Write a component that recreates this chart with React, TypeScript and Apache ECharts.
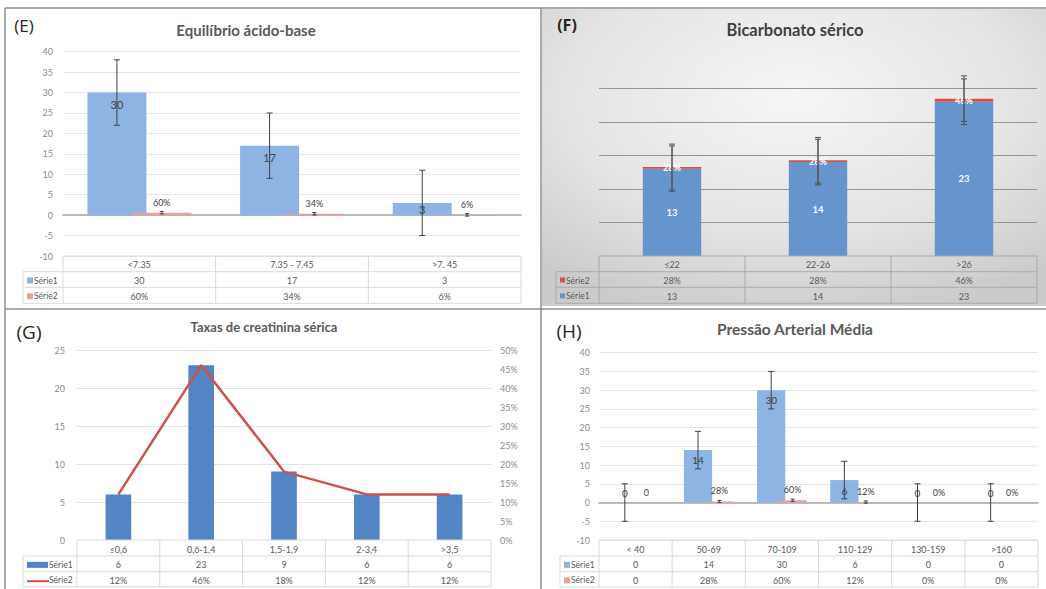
import React, { useEffect, useRef } from 'react';
import * as echarts from 'echarts';

const FONT = 'Lato, "Open Sans", sans-serif';

// ---------- (E) Equilíbrio ácido-base ----------
const eCategories = ['<7.35', '7.35 - 7.45', '>7. 45'];
const eSerie1 = [30, 17, 3];
const eSerie2 = [0.6, 0.34, 0.06];
const eSerie2Labels = ['60%', '34%', '6%'];
const eError1 = [8, 8, 8];
const eError2 = [0.3, 0.3, 0.3];

// ---------- (F) Bicarbonato sérico ----------
const fCategories = ['≤22', '22-26', '>26'];
const fSerie1 = [13, 14, 23];
const fSerie2 = [0.28, 0.28, 0.46];
const fSerie2Labels = ['28%', '28%', '46%'];
const fError = [3.4, 3.4, 3.4];

// ---------- (G) Taxas de creatinina sérica ----------
const gCategories = ['≤0,6', '0,6-1,4', '1,5-1,9', '2-3,4', '>3,5'];
const gSerie1 = [6, 23, 9, 6, 6];
const gSerie2 = [0.12, 0.46, 0.18, 0.12, 0.12];
const gSerie2Labels = ['12%', '46%', '18%', '12%', '12%'];

// ---------- (H) Pressão Arterial Média ----------
const hCategories = ['< 40', '50-69', '70-109', '110-129', '130-159', '>160'];
const hSerie1 = [0, 14, 30, 6, 0, 0];
const hSerie2 = [0, 0.28, 0.6, 0.12, 0, 0];
const hSerie2Labels = ['0', '28%', '60%', '12%', '0%', '0%'];
const hError1 = [5, 5, 5, 5, 5, 5];
const hError2 = [0, 0.3, 0.3, 0.3, 0, 0];

// ---------- layout ----------
const E = { left: 63, right: 521, top: 51.7, bottom: 256, keyLeft: 23, rows: [256, 271.7, 287.3, 303.3] };
const F = { left: 599, right: 1037, top: 54.8, bottom: 256, keyLeft: 556, rows: [256, 271.7, 287.3, 303.3] };
const G = { left: 77, right: 491, top: 350, bottom: 540, keyLeft: 23, rows: [540, 556, 571.7, 586.7] };
const H = { left: 599, right: 1038, top: 352.7, bottom: 540, keyLeft: 560, rows: [540, 556, 571.7, 587] };

const CAT_GAP = 0.32;
const BAR_GAP = -0.24;
const barW = (1 - CAT_GAP) / (2 + BAR_GAP);
const blueShift = -(1 - CAT_GAP) / 2 + barW / 2;
const redShift = -blueShift;

const C = {
  eBlue: '#8DB4E2',
  eRed: '#E6A09E',
  fBlue: '#6694CC',
  fRed: '#D4504C',
  gBlue: '#5384C4',
  gRed: '#D0504D',
  text: '#595959',
  axis: '#8c8c8c',
};

const makeErr = (shift: number, cap = 3, color = '#404040') => (params: any, api: any) => {
  const xi = api.value(0);
  const c = api.value(1);
  const e = api.value(2);
  if (!e) return { type: 'group', children: [] };
  const p1 = api.coord([xi, c + e]);
  const p2 = api.coord([xi, c - e]);
  const band = api.size([1, 0])[0];
  const cx = p1[0] + shift * band;
  const style = { stroke: color, lineWidth: 1 };
  return {
    type: 'group',
    children: [
      { type: 'line', shape: { x1: cx, y1: p1[1], x2: cx, y2: p2[1] }, style },
      { type: 'line', shape: { x1: cx - cap, y1: p1[1], x2: cx + cap, y2: p1[1] }, style },
      { type: 'line', shape: { x1: cx - cap, y1: p2[1], x2: cx + cap, y2: p2[1] }, style },
    ],
  };
};

const txt = (x: number, y: number, text: string, o: any = {}) => ({
  type: 'text',
  x,
  y,
  silent: true,
  z: 50,
  style: {
    text,
    fill: o.fill || C.text,
    fontSize: o.fontSize || 9,
    fontWeight: o.fontWeight || 'normal',
    fontFamily: o.fontFamily || FONT,
    align: o.align || 'center',
    verticalAlign: 'middle',
    textAlign: o.align || 'center',
    textVerticalAlign: 'middle',
  },
});

const ln = (x1: number, y1: number, x2: number, y2: number, stroke: string, lineWidth = 1, z = 40) => ({
  type: 'line',
  silent: true,
  z,
  shape: { x1, y1, x2, y2 },
  style: { stroke, lineWidth },
});

type RowDef = { name: string; values: string[]; key: any };

function makeTable(L: any, categories: string[], rows: RowDef[], lineColor: string) {
  const els: any[] = [];
  const ys = L.rows;
  const n = categories.length;
  const colW = (L.right - L.left) / n;
  els.push(ln(L.left, ys[0], L.right, ys[0], lineColor));
  for (let r = 1; r <= 3; r++) els.push(ln(L.keyLeft, ys[r], L.right, ys[r], lineColor));
  els.push(ln(L.left, ys[0], L.left, ys[3], lineColor));
  els.push(ln(L.keyLeft, ys[1], L.keyLeft, ys[3], lineColor));
  for (let i = 1; i <= n; i++) els.push(ln(L.left + colW * i, ys[0], L.left + colW * i, ys[3], lineColor));
  categories.forEach((c, i) => els.push(txt(L.left + colW * (i + 0.5), (ys[0] + ys[1]) / 2 + 1, c)));
  rows.forEach((row, r) => {
    const cy = (ys[r + 1] + ys[r + 2]) / 2 + 1;
    row.values.forEach((v, i) => els.push(txt(L.left + colW * (i + 0.5), cy, v)));
    const k = row.key;
    if (k.type === 'square') {
      els.push({ type: 'rect', silent: true, z: 50, shape: { x: L.keyLeft + 4, y: cy - 3, width: k.size, height: k.size }, style: { fill: k.color } });
      els.push(txt(L.keyLeft + 5 + k.size, cy, row.name, { align: 'left', fontSize: 8.5 }));
    } else if (k.type === 'thick') {
      els.push({ type: 'rect', silent: true, z: 50, shape: { x: L.keyLeft + 4, y: cy - 3, width: 21, height: 6 }, style: { fill: k.color } });
      els.push(txt(L.keyLeft + 26, cy, row.name, { align: 'left', fontSize: 8.5 }));
    } else {
      els.push(ln(L.keyLeft + 4, cy + 1, L.keyLeft + 26, cy + 1, k.color, 2, 50));
      els.push(txt(L.keyLeft + 26, cy, row.name, { align: 'left', fontSize: 8.5 }));
    }
  });
  return els;
}

function buildOption() {
  const graphic: any[] = [];
  // F panel background
  graphic.push({
    type: 'rect',
    silent: true,
    z: -100,
    shape: { x: 542, y: 9, width: 504, height: 297 },
    style: {
      fill: {
        type: 'radial',
        x: 0.5,
        y: 0.3,
        r: 0.75,
        colorStops: [
          { offset: 0, color: '#f6f6f6' },
          { offset: 0.6, color: '#e4e4e4' },
          { offset: 1, color: '#cbcbcb' },
        ],
      },
    },
  });
  // borders
  graphic.push(ln(5, 8, 1046, 8, '#8f8f8f', 1.5, 60));
  graphic.push(ln(5, 8, 5, 589, '#8f8f8f', 1.5, 60));
  graphic.push(ln(541, 8, 541, 589, '#8f8f8f', 1.5, 60));
  graphic.push(ln(5, 309, 1046, 309, '#8f8f8f', 1.5, 60));

  // titles
  graphic.push(txt(24, 25, '(E)', { fontSize: 17, fill: '#262626', fontFamily: '"Open Sans", sans-serif' }));
  graphic.push(txt(246, 30, 'Equilíbrio ácido-base', { fontSize: 15, fontWeight: 'bold', fill: '#595959' }));
  graphic.push(txt(567, 25, '(F)', { fontSize: 16, fill: '#262626', fontWeight: 'bold', fontFamily: '"Open Sans", sans-serif' }));
  graphic.push(txt(795, 30, 'Bicarbonato sérico', { fontSize: 16.5, fontWeight: 'bold', fill: '#404040' }));
  graphic.push(txt(29, 332, '(G)', { fontSize: 19, fill: '#262626', fontFamily: '"Open Sans", sans-serif' }));
  graphic.push(txt(264, 327, 'Taxas de creatinina sérica', { fontSize: 13, fontWeight: 'bold', fill: '#595959' }));
  graphic.push(txt(569, 331, '(H)', { fontSize: 19, fill: '#262626', fontFamily: '"Open Sans", sans-serif' }));
  graphic.push(txt(795, 329, 'Pressão Arterial Média', { fontSize: 15.5, fontWeight: 'bold', fill: '#595959' }));

  // tables
  graphic.push(
    ...makeTable(E, eCategories, [
      { name: 'Série1', values: eSerie1.map(String), key: { type: 'square', color: C.eBlue, size: 6 } },
      { name: 'Série2', values: eSerie2Labels, key: { type: 'square', color: C.eRed, size: 6 } },
    ], '#d9d9d9')
  );
  graphic.push(
    ...makeTable(F, fCategories, [
      { name: 'Série2', values: fSerie2Labels, key: { type: 'square', color: C.fRed, size: 5 } },
      { name: 'Série1', values: fSerie1.map(String), key: { type: 'square', color: C.fBlue, size: 5 } },
    ], '#ababab')
  );
  graphic.push(
    ...makeTable(G, gCategories, [
      { name: 'Série1', values: gSerie1.map(String), key: { type: 'thick', color: C.gBlue } },
      { name: 'Série2', values: gSerie2Labels, key: { type: 'line', color: C.gRed } },
    ], '#d9d9d9')
  );
  graphic.push(
    ...makeTable(H, hCategories, [
      { name: 'Série1', values: hSerie1.map(String), key: { type: 'square', color: C.eBlue, size: 6 } },
      { name: 'Série2', values: hSerie2Labels, key: { type: 'square', color: C.eRed, size: 6 } },
    ], '#d9d9d9')
  );

  const gridOf = (L: any) => ({ left: L.left, top: L.top, width: L.right - L.left, height: L.bottom - L.top, containLabel: false });

  const baseX = (cats: string[], gridIndex: number, showLine: boolean, lineColor = '#a6a6a6') => ({
    type: 'category',
    gridIndex,
    data: cats,
    axisLabel: { show: false },
    axisTick: { show: false },
    axisLine: { show: showLine, onZero: true, lineStyle: { color: lineColor, width: 1.5 } },
    splitLine: { show: false },
  });

  const yLabel = { color: C.axis, fontSize: 9, fontFamily: FONT, margin: 10 };

  const option: any = {
    animation: false,
    backgroundColor: '#ffffff',
    textStyle: { fontFamily: FONT },
    graphic,
    grid: [gridOf(E), gridOf(F), gridOf(G), gridOf(H)],
    xAxis: [
      baseX(eCategories, 0, true),
      baseX(fCategories, 1, false),
      baseX(gCategories, 2, false),
      baseX(hCategories, 3, true),
    ],
    yAxis: [
      {
        type: 'value', gridIndex: 0, min: -10, max: 40, interval: 5,
        axisLabel: yLabel, axisLine: { show: false }, axisTick: { show: false },
        splitLine: { lineStyle: { color: '#e6e6e6' } },
      },
      {
        type: 'value', gridIndex: 1, min: 0, max: 30, interval: 5,
        axisLabel: { show: false }, axisLine: { show: false }, axisTick: { show: false },
        splitLine: { showMaxLine: false, showMinLine: false, lineStyle: { color: '#959595' } },
      },
      {
        type: 'value', gridIndex: 2, min: 0, max: 25, interval: 5,
        axisLabel: { ...yLabel, margin: 12 }, axisLine: { show: false }, axisTick: { show: false },
        splitLine: { showMinLine: false, lineStyle: { color: '#e3e3e3' } },
      },
      {
        type: 'value', gridIndex: 2, position: 'right', min: 0, max: 0.5, interval: 0.05,
        axisLabel: { ...yLabel, margin: 9, formatter: (v: number) => Math.round(v * 100) + '%' },
        axisLine: { show: false }, axisTick: { show: false }, splitLine: { show: false },
      },
      {
        type: 'value', gridIndex: 3, min: -10, max: 40, interval: 5,
        axisLabel: { ...yLabel, margin: 9 }, axisLine: { show: false }, axisTick: { show: false },
        splitLine: { lineStyle: { color: '#e6e6e6' } },
      },
    ],
    series: [
      // E
      {
        type: 'bar', xAxisIndex: 0, yAxisIndex: 0, name: 'Série1',
        barCategoryGap: '32%', barGap: '-24%',
        itemStyle: { color: C.eBlue },
        data: eSerie1.map((v) => ({ value: v, label: { position: v < 5 ? 'inside' : 'insideTop' } })),
        label: { show: true, color: '#404040', fontSize: 11, distance: 6 },
        z: 2,
      },
      {
        type: 'bar', xAxisIndex: 0, yAxisIndex: 0, name: 'Série2',
        barCategoryGap: '32%', barGap: '-24%',
        itemStyle: { color: C.eRed },
        data: eSerie2,
        label: { show: true, position: 'top', distance: 6, color: '#404040', fontSize: 9, formatter: (p: any) => eSerie2Labels[p.dataIndex] },
        z: 2,
      },
      {
        type: 'custom', xAxisIndex: 0, yAxisIndex: 0, clip: false, z: 5,
        renderItem: makeErr(blueShift, 3),
        data: eSerie1.map((v, i) => [i, v, eError1[i]]),
      },
      {
        type: 'custom', xAxisIndex: 0, yAxisIndex: 0, clip: false, z: 5,
        renderItem: makeErr(redShift, 2),
        data: eSerie2.map((v, i) => [i, v, eError2[i]]),
      },
      // F
      {
        type: 'bar', xAxisIndex: 1, yAxisIndex: 1, stack: 'f', name: 'Série1',
        barWidth: '40%',
        itemStyle: { color: C.fBlue },
        data: fSerie1,
        label: { show: true, position: 'inside', color: '#ffffff', fontWeight: 'bold', fontSize: 9.5 },
        z: 2,
      },
      {
        type: 'bar', xAxisIndex: 1, yAxisIndex: 1, stack: 'f', name: 'Série2',
        barWidth: '40%',
        itemStyle: { color: C.fRed },
        data: fSerie2,
        label: { show: true, position: 'inside', color: '#ffffff', fontWeight: 'bold', fontSize: 9, formatter: (p: any) => fSerie2Labels[p.dataIndex] },
        z: 3,
      },
      {
        type: 'custom', xAxisIndex: 1, yAxisIndex: 1, clip: false, z: 5,
        renderItem: makeErr(0, 3, '#505050'),
        data: fSerie1.map((v, i) => [i, v, fError[i]]),
      },
      {
        type: 'custom', xAxisIndex: 1, yAxisIndex: 1, clip: false, z: 5,
        renderItem: makeErr(0, 3, '#505050'),
        data: fSerie1.map((v, i) => [i, v + fSerie2[i], fError[i]]),
      },
      // G
      {
        type: 'bar', xAxisIndex: 2, yAxisIndex: 2, name: 'Série1',
        barWidth: '31%',
        itemStyle: { color: C.gBlue },
        data: gSerie1,
        z: 2,
      },
      {
        type: 'line', xAxisIndex: 2, yAxisIndex: 3, name: 'Série2',
        data: gSerie2,
        symbol: 'none',
        lineStyle: { color: C.gRed, width: 2.5 },
        z: 4,
      },
      // H
      {
        type: 'bar', xAxisIndex: 3, yAxisIndex: 4, name: 'Série1',
        barCategoryGap: '32%', barGap: '-24%',
        itemStyle: { color: C.eBlue },
        data: hSerie1.map((v) => ({ value: v, label: { position: v === 0 ? 'top' : v < 10 ? 'inside' : 'insideTop' } })),
        label: { show: true, color: '#404040', fontSize: 10, distance: 5 },
        z: 2,
      },
      {
        type: 'bar', xAxisIndex: 3, yAxisIndex: 4, name: 'Série2',
        barCategoryGap: '32%', barGap: '-24%',
        itemStyle: { color: C.eRed },
        data: hSerie2,
        label: { show: true, position: 'top', distance: 6, color: '#404040', fontSize: 9, formatter: (p: any) => hSerie2Labels[p.dataIndex] },
        z: 2,
      },
      {
        type: 'custom', xAxisIndex: 3, yAxisIndex: 4, clip: false, z: 5,
        renderItem: makeErr(blueShift, 3),
        data: hSerie1.map((v, i) => [i, v, hError1[i]]),
      },
      {
        type: 'custom', xAxisIndex: 3, yAxisIndex: 4, clip: false, z: 5,
        renderItem: makeErr(redShift, 2),
        data: hSerie2.map((v, i) => [i, v, hError2[i]]),
      },
    ],
  };
  return option;
}

export default function App() {
  const ref = useRef<HTMLDivElement>(null);
  useEffect(() => {
    if (!ref.current) return;
    const chart = echarts.init(ref.current, null, { renderer: 'svg', width: 1046, height: 589 });
    chart.setOption(buildOption());
    return () => chart.dispose();
  }, []);
  return (
    <div
      ref={ref}
      style={{ position: 'fixed', left: 0, top: 0, width: 1046, height: 589, background: '#ffffff' }}
    />
  );
}
